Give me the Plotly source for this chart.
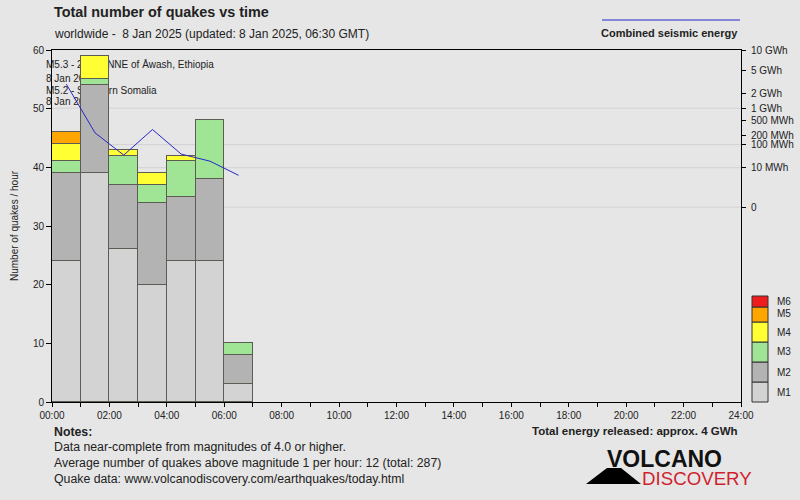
import plotly.graph_objects as go

# ---- data ----
hours = [0, 1, 2, 3, 4, 5, 6]
m1 = [24, 39, 26, 20, 24, 24, 3]
m2 = [15, 15, 11, 14, 11, 14, 5]
m3 = [2, 1, 5, 3, 6, 10, 2]
m4 = [3, 4, 1, 2, 1, 0, 0]
m5 = [2, 0, 0, 0, 0, 0, 0]
m6 = [0, 0, 0, 0, 0, 0, 0]
energy_mwh = [2950, 237, 40, 296, 44, 21.6, 3.4]

mag_names = ["M1", "M2", "M3", "M4", "M5", "M6"]
mag_colors = ["#d3d3d3", "#b3b3b3", "#a0e496", "#ffff33", "#ffa500", "#ee1c1c"]

energy_ticks_gwh = [0, 0.01, 0.1, 0.2, 0.5, 1, 2, 5, 10]
energy_tick_labels = ["0", "10 MWh", "100 MWh", "200 MWh", "500 MWh", "1 GWh", "2 GWh", "5 GWh", "10 GWh"]
energy_grid_gwh = [0, 0.01, 0.1, 1]

quake_labels = ["M5.3 - 22 km NNE of Āwash, Ethiopia", "8 Jan 2025",
                "M5.2 - Southern Somalia", "8 Jan 2025"]
quake_label_y = [57.4, 55.05, 53.0, 51.1]

x_ticks = list(range(0, 25, 2))
x_tick_labels = ["%02d:00" % h for h in x_ticks]

BG = "#e6e6e6"
TXT = "#222222"
FONT = "Liberation Sans"

# Arial / Liberation Sans advance widths (per 1000 em) for label centring
_W = {" ": 278, "-": 333, ".": 278, ",": 278, ":": 278, "Ā": 667}
_W.update({d: 556 for d in "0123456789"})
_W.update(dict(zip("ABCDEFGHIJKLMNOPQRSTUVWXYZ",
                   [667, 667, 722, 722, 667, 611, 778, 722, 278, 500, 667, 556, 833,
                    722, 778, 667, 778, 722, 667, 611, 722, 667, 944, 667, 667, 611])))
_W.update(dict(zip("abcdefghijklmnopqrstuvwxyz",
                   [556, 556, 500, 556, 556, 278, 556, 556, 222, 222, 500, 222, 833,
                    556, 556, 556, 556, 333, 500, 278, 556, 500, 722, 500, 500, 500])))


def text_width(s, size):
    return sum(_W.get(c, 556) for c in s) * size / 1000.0


def escale(gwh):
    return gwh ** 0.2


# plot area in pixels: x 52..741, y 50..402
L, R, T, B = 52, 741, 50, 402
ZERO_E = 207  # pixel row of the energy "0"
E_SCALE = (ZERO_E - T) / escale(10)
PX_PER_HOUR = (R - L) / 24.0


def pxx(x):
    return (x - L) / (R - L)


def pxy(y):
    return (B - y) / (B - T)


fig = go.Figure()

# quake labels on the main subplot (drawn beneath the bars)
LABEL_SIZE = 10
label_x = [(46 + text_width(s, LABEL_SIZE) / 2 - L) / PX_PER_HOUR for s in quake_labels]
fig.add_trace(go.Scatter(
    x=label_x, y=quake_label_y, text=quake_labels,
    mode="text", textposition="middle center", cliponaxis=False,
    textfont=dict(family=FONT, size=LABEL_SIZE, color=TXT),
    xaxis="x", yaxis="y", showlegend=False, hoverinfo="skip"))

stacks = [m1, m2, m3, m4, m5, m6]
for name, col, vals in zip(mag_names, mag_colors, stacks):
    fig.add_trace(go.Bar(
        x=[h + 0.5 for h in hours], y=vals, width=1, name=name,
        marker=dict(color=col, line=dict(color="#5c5c55", width=1)),
        xaxis="x", yaxis="y2", showlegend=False))

fig.add_trace(go.Scatter(
    x=[h + 0.5 for h in hours], y=[escale(e / 1000.0) for e in energy_mwh],
    mode="lines", line=dict(color="#2626c8", width=1),
    xaxis="x", yaxis="y3", showlegend=False))

shapes = []
for g in energy_grid_gwh:
    shapes.append(dict(type="line", xref="paper", x0=0, x1=1, yref="y3",
                       y0=escale(g), y1=escale(g), layer="below",
                       line=dict(color="#d2d2d2", width=1)))

# colour key on the right
key_edges = [402, 382, 362, 342, 322, 307, 296]
key_label_y = [392, 372, 351, 332, 313, 301]
annotations = []
for i, (name, col) in enumerate(zip(mag_names, mag_colors)):
    shapes.append(dict(type="rect", xref="paper", yref="paper",
                       x0=pxx(752), x1=pxx(768), y0=pxy(key_edges[i]), y1=pxy(key_edges[i + 1]),
                       fillcolor=col, line=dict(color="#333333", width=1)))
    annotations.append(dict(text=name, xref="paper", yref="paper", x=pxx(775), y=pxy(key_label_y[i]),
                            xanchor="left", yanchor="middle", showarrow=False,
                            font=dict(family=FONT, size=10, color=TXT)))

# energy legend line
shapes.append(dict(type="line", xref="paper", yref="paper", x0=pxx(602), x1=pxx(740),
                   y0=pxy(20), y1=pxy(20), line=dict(color="#2626c8", width=1)))

# logo mountain
shapes.append(dict(type="path", xref="paper", yref="paper",
                   path="M %f %f L %f %f L %f %f L %f %f Z" % (
                       pxx(586), pxy(484), pxx(607), pxy(468), pxx(621), pxy(468), pxx(641), pxy(484)),
                   fillcolor="#000000", line=dict(width=0)))


def ann(text, x, y, size, bold=False, anchor="left", color=TXT, family=FONT):
    t = "<b>%s</b>" % text if bold else text
    annotations.append(dict(text=t, xref="paper", yref="paper", x=pxx(x), y=pxy(y),
                            xanchor=anchor, yanchor="middle", showarrow=False,
                            font=dict(family=family, size=size, color=color)))


ann("Total number of quakes vs time", 52, 12, 14.4, bold=True)
ann("worldwide -  8 Jan 2025 (updated: 8 Jan 2025, 06:30 GMT)", 52, 34, 12)
ann("Combined seismic energy", 740, 33, 11, bold=True, anchor="right")
ann("Notes:", 52, 432, 12.3, bold=True)
ann("Data near-complete from magnitudes of 4.0 or higher.", 52, 447, 12.3)
ann("Average number of quakes above magnitude 1 per hour: 12 (total: 287)", 52, 463, 12.3)
ann("Quake data: www.volcanodiscovery.com/earthquakes/today.html", 52, 479, 12.3)
ann("Total energy released: approx. 4 GWh", 740, 431, 11.5, bold=True, anchor="right")
ann("VOLCANO", 664, 459, 23, bold=True, anchor="center", color="#111111")
ann("DISCOVERY", 697, 478.5, 18.7, bold=False, anchor="center", color="#d01f2e")

fig.update_layout(
    width=800, height=500,
    margin=dict(l=L, r=800 - R, t=T, b=500 - B, autoexpand=False),
    paper_bgcolor=BG, plot_bgcolor=BG,
    barmode="stack", bargap=0,
    shapes=shapes, annotations=annotations,
    font=dict(family=FONT, size=10, color=TXT),
    xaxis=dict(range=[0, 24], tickvals=x_ticks, ticktext=x_tick_labels,
               ticks="outside", ticklen=4, tickcolor="#000000",
               minor=dict(dtick=1, ticks="outside", ticklen=4, tickcolor="#000000"),
               showline=True, linecolor="#000000", linewidth=1, mirror=True,
               showgrid=False, zeroline=False, tickfont=dict(size=10), automargin=False),
    yaxis=dict(range=[0, 60], dtick=10, ticks="outside", ticklen=5, tickcolor="#000000",
               showline=True, linecolor="#000000", linewidth=1,
               showgrid=False, zeroline=False, automargin=False,
               title=dict(text="Number of quakes / hour", font=dict(size=10), standoff=12)),
    yaxis2=dict(range=[0, 60], overlaying="y", visible=False, showgrid=False, zeroline=False),
    yaxis3=dict(range=[-(B - ZERO_E) / E_SCALE, escale(10) + 0.002], overlaying="y", side="right",
                anchor="x",
                tickvals=[escale(g) for g in energy_ticks_gwh], ticktext=energy_tick_labels,
                ticks="outside", ticklen=4, tickcolor="#000000", ticklabelstandoff=3,
                showline=True, linecolor="#000000", linewidth=1, automargin=False,
                showgrid=False, zeroline=False, tickfont=dict(size=10)),
)

fig.write_html("out.html")
